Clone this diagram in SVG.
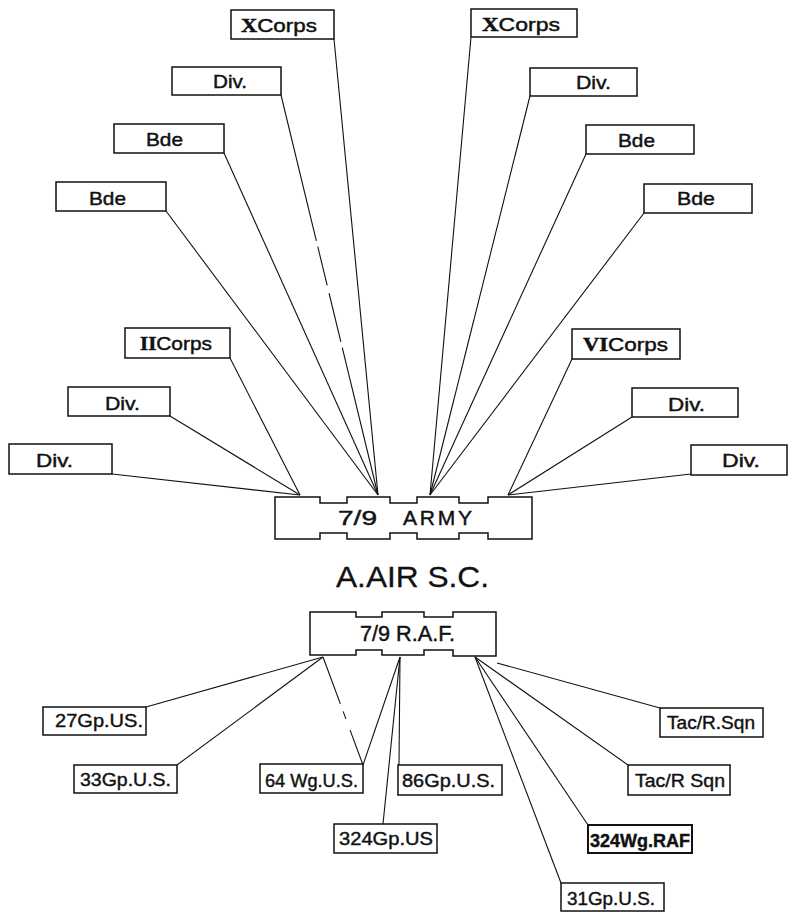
<svg xmlns="http://www.w3.org/2000/svg" width="794" height="912" viewBox="0 0 794 912">
<style>
.box{fill:#fff;stroke:#111;stroke-width:1.5}
.ln{stroke:#111;stroke-width:1.1;fill:none}
.t{font-family:"Liberation Sans",Arial,sans-serif;font-size:19px;fill:#111;stroke:#111;stroke-width:0.45}
.b{font-family:"Liberation Sans",Arial,sans-serif;font-size:18px;fill:#111;stroke:#111;stroke-width:0.4}
.rn{font-family:"Liberation Serif","Times New Roman",serif;font-weight:bold}
</style>
<rect width="794" height="912" fill="#fff"/>
<g id="connectors">
<line class="ln" x1="334" y1="39" x2="378" y2="495"/>
<line class="ln" x1="281" y1="95" x2="378" y2="495" stroke-dasharray="150 6 40 8 50 6 300"/>
<line class="ln" x1="224" y1="153" x2="378" y2="495"/>
<line class="ln" x1="166" y1="211" x2="378" y2="495"/>
<line class="ln" x1="471" y1="37" x2="430" y2="495"/>
<line class="ln" x1="530" y1="96" x2="430" y2="495"/>
<line class="ln" x1="586" y1="154" x2="430" y2="495"/>
<line class="ln" x1="644" y1="213" x2="430" y2="495"/>
<line class="ln" x1="230" y1="358" x2="300" y2="495"/>
<line class="ln" x1="170" y1="416" x2="300" y2="495"/>
<line class="ln" x1="112" y1="474" x2="300" y2="495"/>
<line class="ln" x1="572" y1="359" x2="508" y2="495"/>
<line class="ln" x1="632" y1="417" x2="508" y2="495"/>
<line class="ln" x1="691" y1="474" x2="508" y2="495"/>
<line class="ln" x1="323" y1="657" x2="146" y2="707"/>
<line class="ln" x1="323" y1="657" x2="177" y2="765"/>
<line class="ln" x1="323" y1="657" x2="363" y2="765" stroke-width="1.5" stroke-dasharray="50 8 8 12 60"/>
<line class="ln" x1="400" y1="657" x2="363" y2="765"/>
<line class="ln" x1="400" y1="657" x2="399" y2="765"/>
<line class="ln" x1="400" y1="657" x2="383" y2="824"/>
<line class="ln" x1="497" y1="663" x2="660" y2="708"/>
<line class="ln" x1="475" y1="657" x2="628" y2="765"/>
<line class="ln" x1="475" y1="657" x2="588" y2="825"/>
<line class="ln" x1="475" y1="657" x2="561" y2="883"/>
</g>
<g id="army">
<path class="box" d="M275,497 H320 V503 H347 V497 H390 V503 H417 V497 H459 V503 H488 V497 H532 V539 H488 V533 H459 V539 H417 V533 H390 V539 H347 V533 H320 V539 H275 Z"/>
<text class="t" style="font-size:21px" x="338" y="525" textLength="39" lengthAdjust="spacingAndGlyphs">7/9</text>
<text class="t" style="font-size:21px" x="403" y="525" textLength="69" lengthAdjust="spacing">ARMY</text>
</g>
<g id="title">
<text class="t" style="font-size:30px;stroke-width:0.3" x="336" y="587" textLength="153" lengthAdjust="spacingAndGlyphs">A.AIR S.C.</text>
</g>
<g id="raf">
<path class="box" d="M310,612 H356 V617 H382 V612 H424 V617 H453 V612 H496 V656 H453 V650 H424 V655 H382 V650 H356 V655 H310 Z"/>
<text class="t" style="font-size:22px" x="360" y="641" textLength="95" lengthAdjust="spacingAndGlyphs">7/9 R.A.F.</text>
</g>
<g id="xcorps-l"><rect class="box" x="231" y="10" width="103" height="29"/><text class="t" x="241" y="32" textLength="76" lengthAdjust="spacingAndGlyphs"><tspan class="rn">X</tspan>Corps</text></g>
<g id="xcorps-r"><rect class="box" x="471" y="9" width="106" height="28"/><text class="t" x="482" y="31" textLength="78" lengthAdjust="spacingAndGlyphs"><tspan class="rn">X</tspan>Corps</text></g>
<g id="div-tl"><rect class="box" x="172" y="67" width="109" height="28"/><text class="t" x="213" y="88" textLength="34" lengthAdjust="spacingAndGlyphs">Div.</text></g>
<g id="div-tr"><rect class="box" x="530" y="68" width="107" height="28"/><text class="t" x="576" y="89" textLength="35" lengthAdjust="spacingAndGlyphs">Div.</text></g>
<g id="bde-l1"><rect class="box" x="114" y="124" width="110" height="29"/><text class="t" x="146" y="146" textLength="37" lengthAdjust="spacingAndGlyphs">Bde</text></g>
<g id="bde-l2"><rect class="box" x="56" y="182" width="110" height="29"/><text class="t" x="89" y="205" textLength="37" lengthAdjust="spacingAndGlyphs">Bde</text></g>
<g id="bde-r1"><rect class="box" x="586" y="125" width="108" height="29"/><text class="t" x="618" y="147" textLength="37" lengthAdjust="spacingAndGlyphs">Bde</text></g>
<g id="bde-r2"><rect class="box" x="644" y="184" width="108" height="29"/><text class="t" x="677" y="205" textLength="38" lengthAdjust="spacingAndGlyphs">Bde</text></g>
<g id="iicorps"><rect class="box" x="125" y="328" width="105" height="30"/><text class="t" x="140" y="350" textLength="72" lengthAdjust="spacingAndGlyphs"><tspan class="rn">II</tspan>Corps</text></g>
<g id="div-l1"><rect class="box" x="68" y="387" width="102" height="29"/><text class="t" x="105" y="410" textLength="35" lengthAdjust="spacingAndGlyphs">Div.</text></g>
<g id="div-l2"><rect class="box" x="9" y="444" width="103" height="30"/><text class="t" x="36" y="467" textLength="37" lengthAdjust="spacingAndGlyphs">Div.</text></g>
<g id="vicorps"><rect class="box" x="572" y="329" width="108" height="30"/><text class="t" x="583" y="351" textLength="85" lengthAdjust="spacingAndGlyphs"><tspan class="rn">VI</tspan>Corps</text></g>
<g id="div-r1"><rect class="box" x="632" y="388" width="106" height="29"/><text class="t" x="668" y="411" textLength="37" lengthAdjust="spacingAndGlyphs">Div.</text></g>
<g id="div-r2"><rect class="box" x="691" y="445" width="96" height="30"/><text class="t" x="722" y="467" textLength="38" lengthAdjust="spacingAndGlyphs">Div.</text></g>
<g id="gp27"><rect class="box" x="43" y="707" width="103" height="28"/><text class="b" x="55" y="727" textLength="88" lengthAdjust="spacingAndGlyphs">27Gp.US.</text></g>
<g id="gp33"><rect class="box" x="74" y="765" width="103" height="28"/><text class="b" x="80" y="786" textLength="91" lengthAdjust="spacingAndGlyphs">33Gp.U.S.</text></g>
<g id="wg64"><rect class="box" x="260" y="764" width="103" height="29"/><text class="b" x="265" y="787" textLength="93" lengthAdjust="spacingAndGlyphs">64 Wg.U.S.</text></g>
<g id="gp86"><rect class="box" x="398" y="765" width="104" height="30"/><text class="b" x="402" y="787" textLength="93" lengthAdjust="spacingAndGlyphs">86Gp.U.S.</text></g>
<g id="gp324"><rect class="box" x="334" y="824" width="103" height="29"/><text class="b" x="339" y="845" textLength="94" lengthAdjust="spacingAndGlyphs">324Gp.US</text></g>
<g id="tac1"><rect class="box" x="660" y="708" width="103" height="29"/><text class="b" x="667" y="729" textLength="88" lengthAdjust="spacingAndGlyphs">Tac/R.Sqn</text></g>
<g id="tac2"><rect class="box" x="628" y="765" width="102" height="30"/><text class="b" x="635" y="787" textLength="90" lengthAdjust="spacingAndGlyphs">Tac/R Sqn</text></g>
<g id="wg324"><rect class="box" x="588" y="825" width="104" height="28" style="stroke-width:2"/><text class="b" x="590" y="847" textLength="100" lengthAdjust="spacingAndGlyphs" font-weight="bold">324Wg.RAF</text></g>
<g id="gp31"><rect class="box" x="561" y="883" width="103" height="28"/><text class="b" x="567" y="905" textLength="88" lengthAdjust="spacingAndGlyphs">31Gp.U.S.</text></g>
</svg>
